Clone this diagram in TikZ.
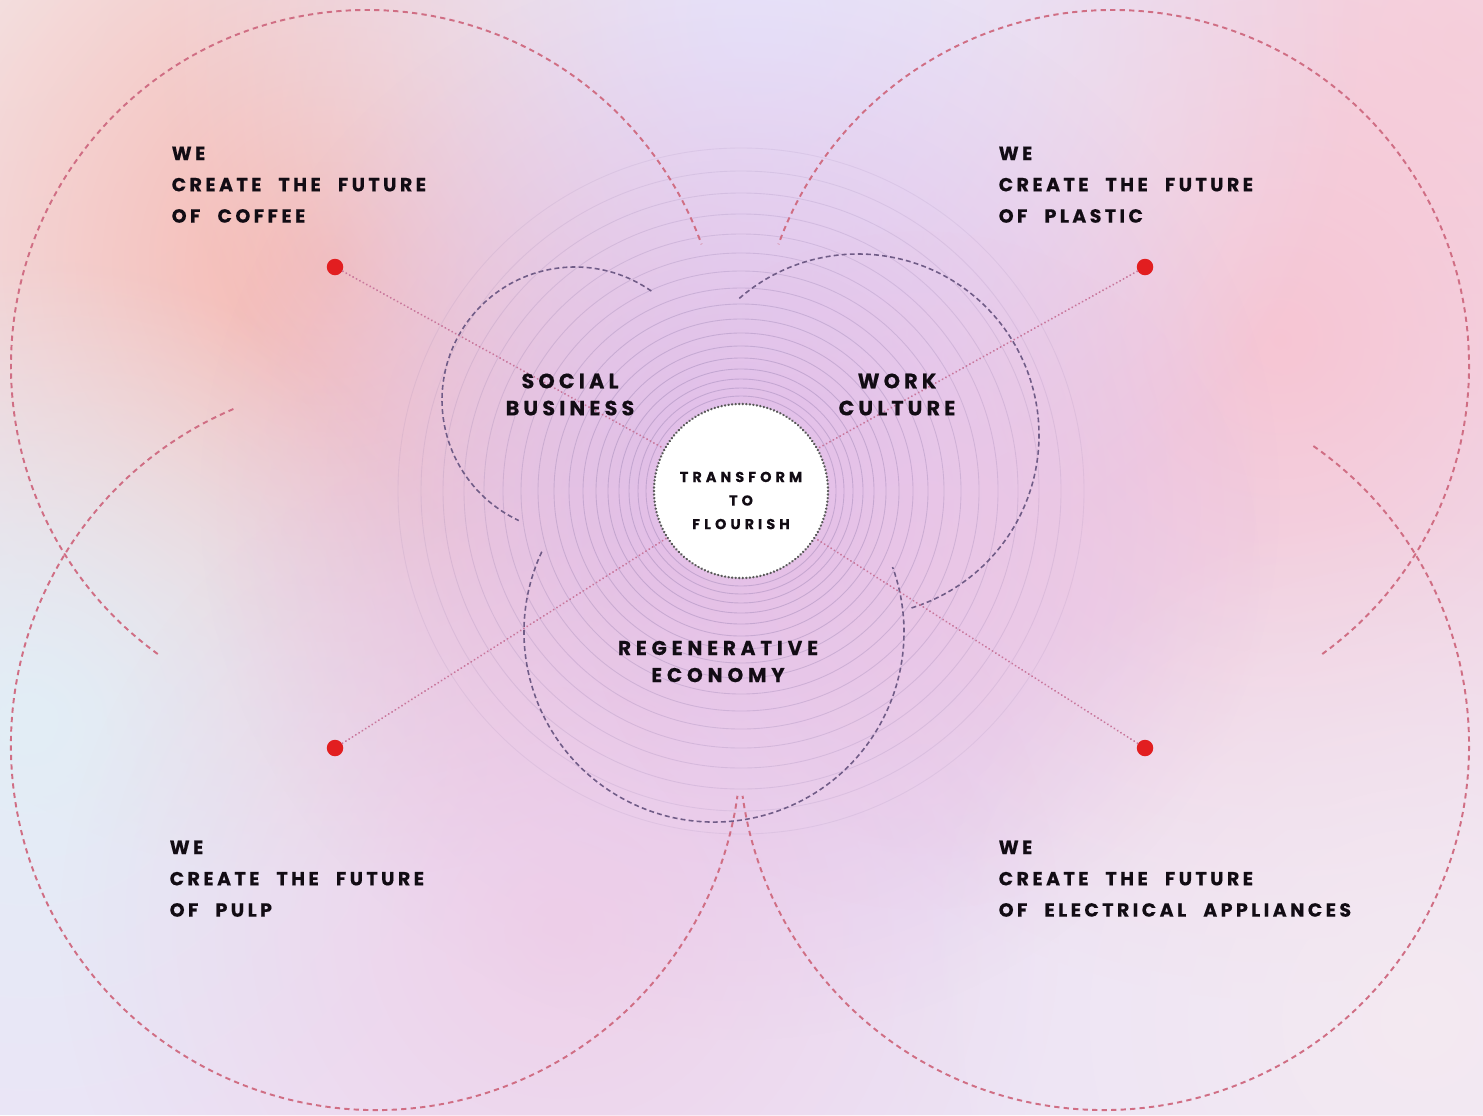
\documentclass[tikz,border=0pt]{standalone}
\usepackage{fontspec}
\usetikzlibrary{fadings}
\setmainfont{Poppins}
\newfontfamily\cornerfont{Poppins}[LetterSpace=18, WordSpace=2.3, BoldFeatures={FakeBold=0.35}]
\newfontfamily\midfont{Poppins}[LetterSpace=20, BoldFeatures={FakeBold=0.35}]
\newfontfamily\regenfont{Poppins}[LetterSpace=24, BoldFeatures={FakeBold=0.35}]
\newfontfamily\corefont{Poppins}[LetterSpace=28, BoldFeatures={FakeBold=0.3}]

\definecolor{bgbase}{RGB}{236,228,246}
\definecolor{paper}{RGB}{243,241,244}
\definecolor{salmon}{RGB}{247,184,176}
\definecolor{rose}{RGB}{247,196,210}
\definecolor{lightrose}{RGB}{247,214,224}
\definecolor{violet}{RGB}{221,184,236}
\definecolor{mauve}{RGB}{240,198,226}
\definecolor{mist}{RGB}{226,238,246}
\definecolor{lilac}{RGB}{231,228,250}
\definecolor{palepink}{RGB}{245,234,241}
\definecolor{bigdash}{RGB}{208,110,132}
\definecolor{middash}{RGB}{112,92,135}
\definecolor{connc}{RGB}{200,118,155}
\definecolor{dotred}{RGB}{226,30,32}
\definecolor{ringc}{RGB}{140,118,168}
\definecolor{ink}{RGB}{18,12,20}

\tikzfading[name=softglow, inner color=transparent!0, outer color=transparent!100]
\newcommand\bgblob[4]{\fill[#1, path fading=softglow, opacity=#4] (#2) circle[radius=#3];}

\begin{document}
\begin{tikzpicture}[x=0.01cm,y=-0.01cm,
  bigring/.style={draw=bigdash, line width=0.55pt, dash pattern=on 1.5pt off 1.2pt},
  midring/.style={draw=middash, line width=0.45pt, dash pattern=on 1.4pt off 0.9pt},
  ringline/.style={draw=ringc, line width=0.25pt},
  connline/.style={draw=connc, line width=0.6pt, dash pattern=on 0.01pt off 1.1pt, line cap=round},
  reddot/.style={circle, fill=dotred, minimum size=0.165cm, inner sep=0pt},
  corecircle/.style={circle, fill=white, draw=black!65, line width=0.75pt,
    dash pattern=on 0.01pt off 1pt, line cap=round, minimum size=1.74cm, inner sep=0pt},
  cornerlbl/.style={anchor=north west, align=left, inner sep=0pt, text=ink,
    font={\cornerfont\bfseries\fontsize{5.4pt}{8.9pt}\selectfont}},
  midlbl/.style={anchor=center, align=center, inner sep=0pt, text=ink,
    font={\midfont\bfseries\fontsize{5.9pt}{7.7pt}\selectfont}},
  regenlbl/.style={anchor=center, align=center, inner sep=0pt, text=ink,
    font={\regenfont\bfseries\fontsize{5.7pt}{7.7pt}\selectfont}},
  corelbl/.style={anchor=center, align=center, inner sep=0pt, text=ink,
    font={\corefont\bfseries\fontsize{4.1pt}{6.7pt}\selectfont}}
]
\useasboundingbox (0,0) rectangle (1483,1115);
% background
\fill[bgbase] (0,0) rectangle (1483,1115);
\bgblob{paper}{0,0}{700}{1}
\bgblob{salmon}{330,260}{620}{1}
\bgblob{lightrose}{1460,40}{420}{0.9}
\bgblob{rose}{1280,340}{660}{0.95}
\bgblob{lilac}{760,20}{600}{1}
\bgblob{mist}{30,720}{460}{1}
\bgblob{violet}{740,500}{540}{0.9}
\bgblob{mauve}{560,930}{500}{0.65}
\bgblob{mauve}{920,570}{340}{0.45}
\bgblob{palepink}{1420,1020}{520}{0.9}

% concentric rings
\foreach \r/\o in {95/0.35,103/0.35,112/0.35,122/0.35,133/0.35,145/0.33,158/0.32,172/0.3,187/0.3,203/0.28,220/0.26,238/0.24,257/0.22,277/0.2,298/0.18,320/0.15,343/0.12}
  \draw[ringline, opacity=\o] (741,491) circle[radius=\r];

% big dashed circles (visible parts)
\draw[bigring] (367,366) ++(-234:356) arc[start angle=-234, end angle=-20, radius=356];
\draw[bigring] (1113,366) ++(54:356) arc[start angle=54, end angle=-160, radius=356];
\draw[bigring] (376,745) ++(247:365) arc[start angle=247, end angle=8, radius=365];
\draw[bigring] (1104,745) ++(-55:365) arc[start angle=-55, end angle=172, radius=365];

% medium dashed circles
\draw[midring] (575,400) ++(-55:133) arc[start angle=-55, end angle=-245, radius=133];
\draw[midring] (858,435) ++(-131:181) arc[start angle=-131, end angle=73, radius=181];
\draw[midring] (714,632) ++(205:190) arc[start angle=205, end angle=-20, radius=190];

% core and dots
\node[corecircle] (core) at (741,491) {};
\node[reddot] (dTL) at (335,267) {};
\node[reddot] (dTR) at (1145,267) {};
\node[reddot] (dBL) at (335,748) {};
\node[reddot] (dBR) at (1145,748) {};

\draw[connline] (dTL) -- (core);
\draw[connline] (dTR) -- (core);
\draw[connline] (dBL) -- (core);
\draw[connline] (dBR) -- (core);

% labels
\node[corelbl] (coretext) at (741,500.5) {TRANSFORM\\TO\\FLOURISH};
\node[midlbl] (social) at (570,394.5) {SOCIAL\\BUSINESS};
\node[midlbl] (work) at (897,394.5) {WORK\\CULTURE};
\node[regenlbl] (regen) at (718,661.5) {REGENERATIVE\\ECONOMY};

\node[cornerlbl] (coffee) at (171,146) {WE\\CREATE THE FUTURE\\OF COFFEE};
\node[cornerlbl] (plastic) at (998,146) {WE\\CREATE THE FUTURE\\OF PLASTIC};
\node[cornerlbl] (pulp) at (169,840) {WE\\CREATE THE FUTURE\\OF PULP};
\node[cornerlbl] (appliances) at (998,840) {WE\\CREATE THE FUTURE\\OF ELECTRICAL APPLIANCES};
\end{tikzpicture}
\end{document}
